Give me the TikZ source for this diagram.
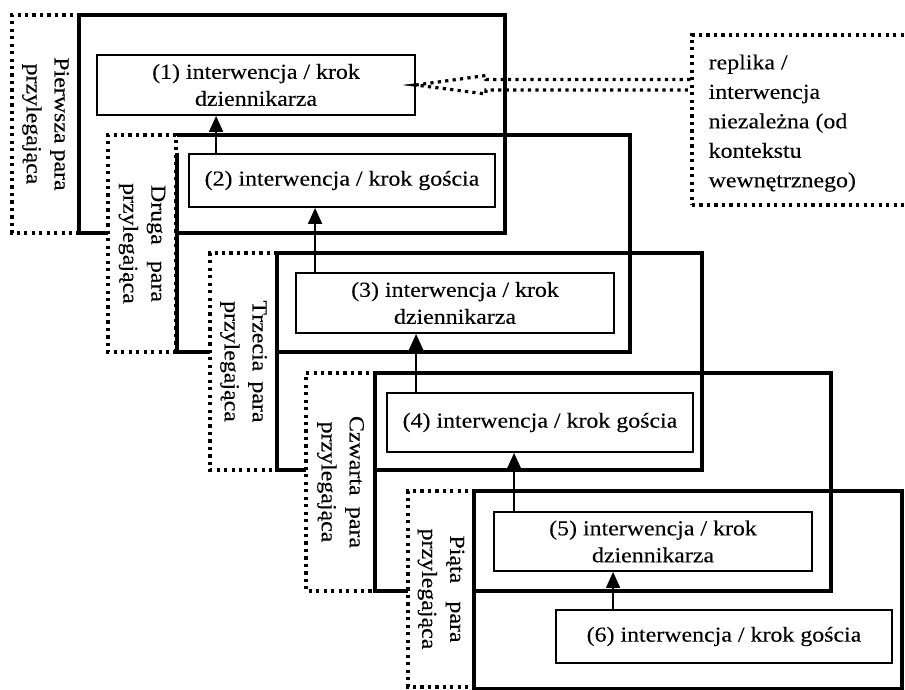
\documentclass[tikz,border=0pt]{standalone}
\usepackage{fontspec}
\setmainfont{Liberation Serif}[FakeStretch=1.12,FakeBold=0.15]
\usetikzlibrary{arrows.meta}

% first line of a rotated pair label, spread over a given width
\newcommand\spreadline[2]{\makebox[#1][s]{#2}}

\begin{document}
\begin{tikzpicture}[x=0.75pt,y=-0.75pt,
  heavy/.style={line width=3.3pt},
  dotframe/.style={draw, line width=2.4pt, dash pattern=on 2.4pt off 3.2pt, fill=white, inner sep=0pt},
  pairbox/.style={dotframe, rotate=-90, align=center, font=\fontsize{16}{21}\selectfont},
  turn/.style={draw, line width=1.4pt, inner sep=0pt, align=center, font=\fontsize{16}{20.25}\selectfont},
  up/.style={line width=1.4pt, -{Triangle[width=10.5pt,length=12pt]}},
  hollow/.style={line width=2.4pt, dash pattern=on 2.4pt off 3.2pt, line join=miter}
]
\useasboundingbox (0,0) rectangle (905,689);

% first pair
\node[pairbox, minimum width=163.5pt, minimum height=50.25pt] (p1) at (45.5,124) {Pierwsza para\\przylegająca};
\draw[heavy] (79,15) rectangle (505,233);
\node[turn, minimum width=238.5pt, minimum height=45pt] (t1) at (256,85) {(1) interwencja / krok\\dziennikarza};

% second pair
\node[pairbox, minimum width=162.75pt, minimum height=51pt] (p2) at (142,243.5) {\spreadline{87.75pt}{Druga para}\\przylegająca};
\draw[heavy] (177,153) -- (177,352) -- (630,352) -- (630,135) -- (177,135);
\node[turn, minimum width=229.5pt, minimum height=39.75pt] (t2) at (342,180.5) {(2) interwencja / krok gościa};

% third pair
\node[pairbox, minimum width=162.75pt, minimum height=50.25pt] (p3) at (243.5,361.5) {\spreadline{91.5pt}{Trzecia para}\\przylegająca};
\draw[heavy] (277,253) rectangle (702,470);
\node[turn, minimum width=238.5pt, minimum height=45pt] (t3) at (455,303) {(3) interwencja / krok\\dziennikarza};

% fourth pair
\node[pairbox, minimum width=163.5pt, minimum height=51.75pt] (p4) at (340.5,482) {\spreadline{99pt}{Czwarta para}\\przylegająca};
\draw[heavy] (375,373) rectangle (831,591);
\node[turn, minimum width=229.5pt, minimum height=44.25pt] (t4) at (540,422.5) {(4) interwencja / krok gościa};

% fifth pair
\node[pairbox, minimum width=147pt, minimum height=49.5pt] (p5) at (441,589) {\spreadline{80.25pt}{Piąta para}\\przylegająca};
\draw[heavy] (474,491) rectangle (902,689);
\node[turn, minimum width=238.5pt, minimum height=44.25pt] (t5) at (653,541.5) {(5) interwencja / krok\\dziennikarza};
\node[turn, minimum width=252pt, minimum height=39.75pt] (t6) at (724,636.5) {(6) interwencja / krok gościa};

% links between consecutive steps
\draw[up] ([xshift=21pt]t2.north west) coordinate (s21) -- (s21 |- t1.south);
\draw[up] ([xshift=15pt]t3.north west) coordinate (s32) -- (s32 |- t2.south);
\draw[up] ([xshift=22.5pt]t4.north west) coordinate (s43) -- (s43 |- t3.south);
\draw[up] ([xshift=15.75pt]t5.north west) coordinate (s54) -- (s54 |- t4.south);
\draw[up] ([xshift=43.5pt]t6.north west) coordinate (s65) -- (s65 |- t5.south);

% independent reply box
\node[dotframe, minimum width=161.25pt, minimum height=127.5pt] (rep) at (799.5,120) {};
\node[anchor=west, align=left, inner sep=0pt, font=\fontsize{16}{22.1}\selectfont] (reptext) at ([xshift=13.5pt,yshift=-2.4pt]rep.west) {replika /\\interwencja\\niezależna (od\\kontekstu\\wewnętrznego)};

% hollow dotted block arrow into step (1)
\coordinate (hu) at (486,75.5);
\coordinate (hl) at (486,94);
\coordinate (su) at (486,79.5);
\coordinate (sl) at (486,90);
\draw[hollow] (su -| rep.west) -- (su) -- (hu) -- (t1.east) -- (hl) -- (sl) -- (sl -| rep.west);
\fill ([xshift=-9.75pt]t1.east) -- ([yshift=1.2pt]t1.east) -- ([yshift=-1.2pt]t1.east) -- cycle;
\end{tikzpicture}
\end{document}
